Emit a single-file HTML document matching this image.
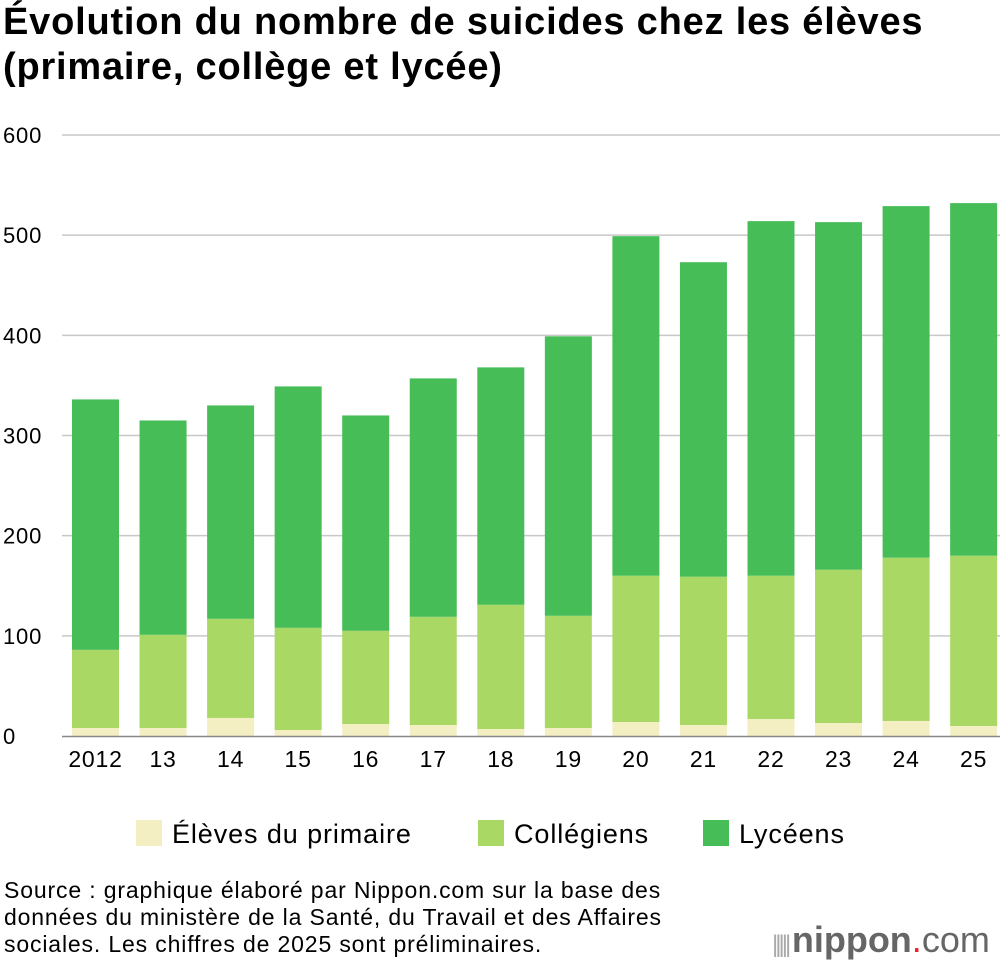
<!DOCTYPE html>
<html><head><meta charset="utf-8"><style>
body{margin:0;width:1000px;height:962px;background:#fff;font-family:"Liberation Sans",sans-serif;overflow:hidden;position:relative}
h1{position:absolute;left:3px;top:0px;margin:0;font-size:38px;line-height:45px;font-weight:bold;color:#000;letter-spacing:0.8px;white-space:nowrap}
.src{position:absolute;left:4px;top:877px;font-size:23px;line-height:27px;color:#000;letter-spacing:0.85px;white-space:nowrap}
</style></head><body>
<h1>Évolution du nombre de suicides chez les élèves<br>(primaire, collège et lycée)</h1>
<svg id="c" width="1000" height="870" style="position:absolute;left:0;top:0"></svg>
<div class="src">Source : graphique élaboré par Nippon.com sur la base des<br>données du ministère de la Santé, du Travail et des Affaires<br>sociales. Les chiffres de 2025 sont préliminaires.</div>
<div style="position:absolute;left:772px;top:916px;font-size:36px;line-height:48px;color:#666;white-space:nowrap"><span style="font-size:24px;color:#aaa;letter-spacing:-3px">||||| </span><b>nippon</b><span style="color:#e8202a">.</span><span style="font-weight:normal">com</span></div>
<script>
const categories=["2012","13","14","15","16","17","18","19","20","21","22","23","24","25"];
const primary=[8,8,18,6,12,11,7,8,14,11,17,13,15,10];
const college=[78,93,99,102,93,108,124,112,146,148,143,153,163,170];
const lycee=[250,214,213,241,215,238,237,279,339,314,354,347,351,352];
const yTicks=[0,100,200,300,400,500,600];
const NS="http://www.w3.org/2000/svg";
const svg=document.getElementById('c');
const y=v=>736-v*1.0017;
const x=i=>72+i*67.55;
const bw=47;
function mk(t,a){const e=document.createElementNS(NS,t);for(const k in a)e.setAttribute(k,a[k]);svg.appendChild(e);return e;}
yTicks.forEach(t=>{
 if(t>0){const l=mk('line',{x1:62,x2:1000,y1:y(t),y2:y(t),stroke:'#c8c8c8','stroke-width':1.5});
 
 }
 const tx=mk('text',{x:3,y:y(t)+8,'font-size':22,'letter-spacing':0.8,fill:'#000'});tx.textContent=t;
 
 
});
const series=[[primary,'#f3efc2','primary'],[college,'#a9d865','college'],[lycee,'#47bd58','lycee']];
categories.forEach((c,i)=>{
 let cum=0;
 series.forEach(([arr,col,n])=>{
  const v=arr[i];
  const r=mk('rect',{x:x(i),y:y(cum+v),width:bw,height:y(cum)-y(cum+v),fill:col});
  
  
  cum+=v;
 });
 const tx=mk('text',{x:x(i)+bw/2,y:767,'font-size':23,'letter-spacing':0.8,'text-anchor':'middle',fill:'#000'});tx.textContent=c;
 
 
});
const ax=mk('line',{x1:62,x2:1000,y1:736.5,y2:736.5,stroke:'#888','stroke-width':1.5});


const leg=[['Élèves du primaire','#f3efc2',136],['Collégiens','#a9d865',478],['Lycéens','#47bd58',703]];
leg.forEach(([t,col,lx])=>{
 const r=mk('rect',{x:lx,y:820,width:26,height:26,fill:col});
 
 
 const tx=mk('text',{x:lx+36,y:843,'font-size':27,'letter-spacing':0.9,fill:'#000'});tx.textContent=t;
 
 
});
</script>
</body></html>
